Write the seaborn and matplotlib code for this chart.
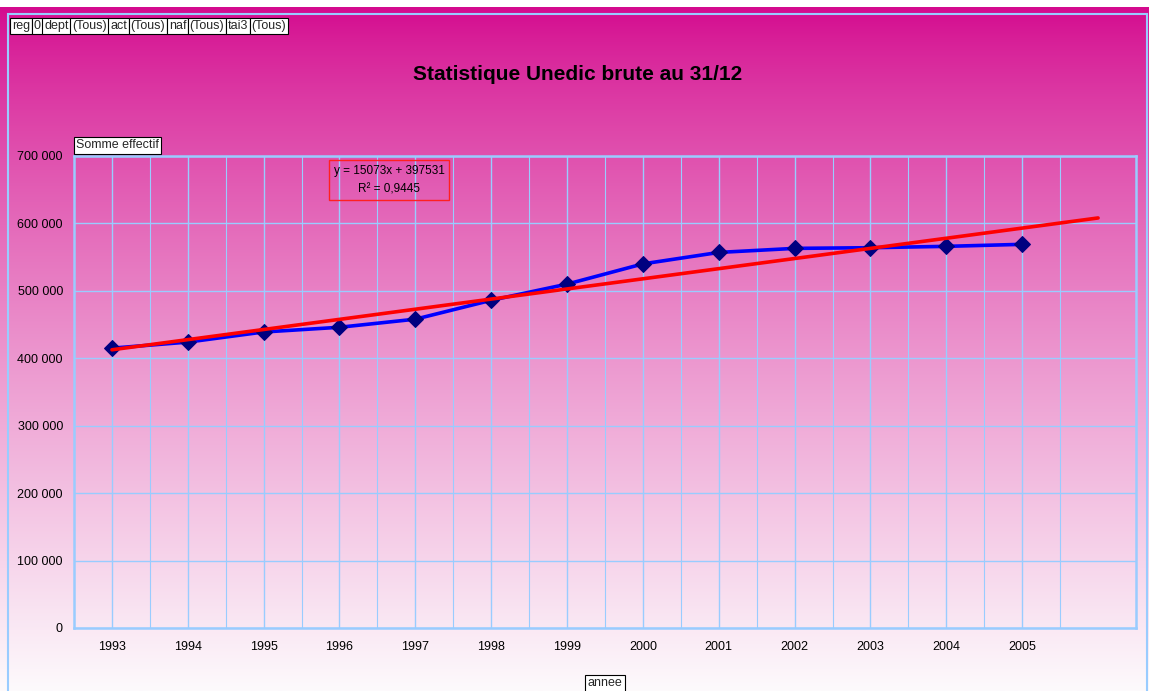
import numpy as np
import pandas as pd
import matplotlib
matplotlib.use("Agg")
import matplotlib.pyplot as plt
import seaborn as sns
from matplotlib.patches import Rectangle

years = ["1993", "1994", "1995", "1996", "1997", "1998", "1999",
         "2000", "2001", "2002", "2003", "2004", "2005"]
effectif = [415000, 424000, 439000, 446000, 458000, 486000, 510000,
            540000, 557000, 563000, 564000, 566000, 569000]
filters = ["reg", "0", "dept", "(Tous)", "act", "(Tous)", "naf", "(Tous)", "tai3", "(Tous)"]
equation = "y = 15073x + 397531"
r2_text = "R\u00b2 = 0,9445"
y_ticks = [0, 100000, 200000, 300000, 400000, 500000, 600000, 700000]

sns.set_theme(style="white")
plt.rcParams["font.family"] = ["Liberation Sans", "DejaVu Sans"]

W, H = 1149, 691
fig = plt.figure(figsize=(W / 100, H / 100), dpi=100)
fig.patch.set_facecolor("white")

# gradient background (magenta -> white)
bg = fig.add_axes([0, 0, 1, 1 - 7 / H], zorder=0)
t = np.linspace(0, 1, 400)[:, None]
top = np.array([212, 10, 142]) / 255
bot = np.array([253, 250, 252]) / 255
grad = (top + (bot - top) * (t ** 0.8)).reshape(400, 1, 3)
bg.imshow(grad, aspect="auto", extent=[0, 1, 0, 1], origin="upper")
bg.add_patch(Rectangle((8 / W, -0.1), (1147 - 8) / W, (691 - 14) / (H - 7) + 0.1,
                       fill=False, edgecolor="#99CCFF", lw=1.5, transform=bg.transAxes))
bg.set_xlim(0, 1)
bg.set_ylim(0, 1)
bg.axis("off")

ax = fig.add_axes([74 / W, 1 - 628 / H, (1136 - 74) / W, (628 - 156) / H], zorder=1)
ax.patch.set_alpha(0)

df = pd.DataFrame({"x": np.arange(1, len(years) + 1), "effectif": effectif})
slope, intercept = np.polyfit(df["x"], df["effectif"], 1)
trend = pd.DataFrame({"x": [1, len(years) + 1]})
trend["y"] = slope * trend["x"] + intercept

sns.lineplot(data=df, x="x", y="effectif", ax=ax, color="#0000FF", lw=2.6,
             marker="D", markersize=8, markerfacecolor="#000080",
             markeredgecolor="#000080", zorder=3)
sns.lineplot(data=trend, x="x", y="y", ax=ax, color="#FF0000", lw=2.6, zorder=4)

ax.set_xlim(0.5, len(years) + 1.5)
ax.set_ylim(0, 700000)
ax.set_yticks(y_ticks)
ax.set_yticklabels([f"{v:,}".replace(",", " ") for v in y_ticks], fontsize=9)
ax.set_xticks(np.arange(1, len(years) + 1))
ax.set_xticklabels(years, fontsize=9)
ax.set_xticks(np.arange(1.5, len(years) + 1.5), minor=True)
ax.tick_params(axis="both", which="both", length=0, colors="black")
ax.tick_params(axis="x", pad=9)
ax.tick_params(axis="y", pad=8)
ax.grid(True, which="major", color="#99CCFF", lw=1)
ax.grid(True, which="minor", axis="x", color="#99CCFF", lw=0.8)
ax.set_axisbelow(True)
ax.set_xlabel("")
ax.set_ylabel("")
for s in ax.spines.values():
    s.set_color("#99CCFF")
    s.set_linewidth(1.8)

fig.text(578 / W, 1 - 75 / H, "Statistique Unedic brute au 31/12", ha="center",
         va="center", fontsize=15, fontweight="bold", color="black")

# trendline label
fig.text(389 / W, 1 - 180 / H, equation + "\n" + r2_text, ha="center", va="center",
         fontsize=8.5, linespacing=1.75, color="black",
         bbox=dict(boxstyle="square,pad=0.35", fc="none", ec="#FF2020", lw=1))

# field buttons, placed side by side
btn = dict(boxstyle="square,pad=0.15", fc="white", ec="black", lw=0.8)
r = fig.canvas.get_renderer()
x0 = 12
for label in filters:
    tx = fig.text(x0 / W, 1 - 26 / H, label, ha="left", va="center", fontsize=9, bbox=btn)
    x0 += tx.get_window_extent(r).width + 3.5

fig.text(76 / W, 1 - 145 / H, "Somme effectif", ha="left", va="center", fontsize=9,
         bbox=dict(boxstyle="square,pad=0.2", fc="white", ec="black", lw=0.8))
fig.text(605 / W, 1 - 683 / H, "annee", ha="center", va="center", fontsize=9,
         bbox=dict(boxstyle="square,pad=0.2", fc="white", ec="black", lw=0.8))

fig.savefig("out.png", dpi=100)
